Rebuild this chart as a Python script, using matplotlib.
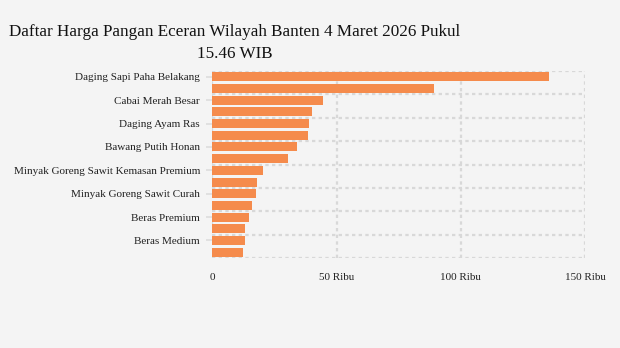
import matplotlib
matplotlib.use("Agg")
import matplotlib.pyplot as plt
import numpy as np

categories = [
    "Daging Sapi Paha Belakang", "Cabai Rawit Merah", "Cabai Merah Besar",
    "Cabai Merah Keriting", "Daging Ayam Ras", "Bawang Merah",
    "Bawang Putih Honan", "Telur Ayam Ras", "Minyak Goreng Sawit Kemasan Premium",
    "Gula Pasir Lokal", "Minyak Goreng Sawit Curah", "Gula Pasir Premium",
    "Beras Premium", "Tepung Terigu", "Beras Medium", "Beras Kualitas Bawah",
]
values = [135700, 89100, 44400, 40000, 38800, 38400, 33900, 30600,
          20200, 17900, 17400, 15800, 14700, 13100, 13100, 12300]
xticks = [0, 50000, 100000, 150000]
xtick_labels = ["0", "50 Ribu", "100 Ribu", "150 Ribu"]
title = "Daftar Harga Pangan Eceran Wilayah Banten 4 Maret 2026 Pukul\n15.46 WIB"

bg = "#f4f4f4"
bar_color = "#f58b4c"
grid_color = "#d8d8d8"

W, H = 620, 348
fig = plt.figure(figsize=(W / 100, H / 100), dpi=100, facecolor=bg)
ax = fig.add_axes([212.5 / W, 1 - 258 / H, (585 - 212.5) / W, (258 - 71) / H])
ax.set_facecolor(bg)

y = np.arange(len(categories))
ax.barh(y, values, height=0.77, color=bar_color, zorder=3)

ax.set_xlim(0, 150000)
ax.set_ylim(len(categories) - 0.5, -0.5)

for s in ax.spines.values():
    s.set_visible(False)

dash = (0, (1.5, 1.5))
for xv in xticks:
    ax.axvline(xv, color=grid_color, lw=1.6, ls=dash, zorder=1)
for yv in np.arange(-0.5, len(categories), 2):
    ax.axhline(yv, color=grid_color, lw=1.6, ls=dash, zorder=1)

ax.set_xticks(xticks)
ax.set_xticklabels(xtick_labels, fontfamily="Liberation Serif", fontsize=8.0, color="#222222")
ax.tick_params(axis="x", length=0, pad=10.5)

ax.set_yticks(y[::2])
ax.set_yticklabels(categories[::2], fontfamily="Liberation Serif", fontsize=8.0, color="#222222")
ax.tick_params(axis="y", length=4, width=1.2, color="#dddddd", pad=5)

fig.text(235 / W, 1 - 24 / H, title, ha="center", va="top", multialignment="center",
         fontfamily="Liberation Serif", fontsize=12.3, color="#111111", linespacing=1.5)

fig.savefig("out.png", dpi=100, facecolor=bg)
